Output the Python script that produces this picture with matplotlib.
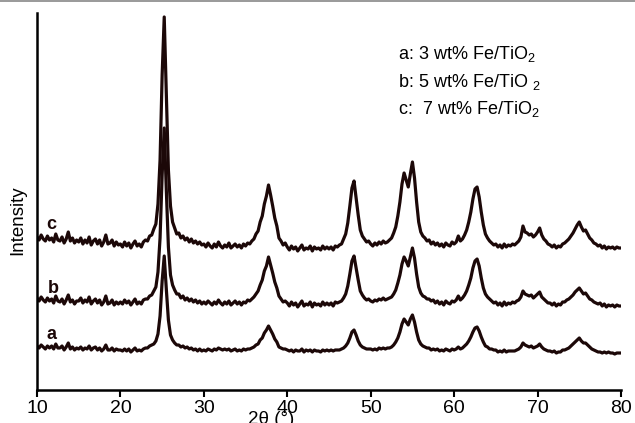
import numpy as np
import matplotlib.pyplot as plt
from matplotlib.lines import Line2D

plt.rcParams['font.family'] = ['Liberation Sans', 'DejaVu Sans']
plt.rcParams['mathtext.default'] = 'regular'

# 2theta scan grid (degrees), 0.25 step
two_theta = np.arange(10.0, 80.001, 0.25)

# intensities (arbitrary units, offset traces)
int_c = [
    153, 150, 155, 151, 149, 154, 150, 152, 148, 156, 150, 149, 153, 147, 151, 158, 149, 152, 147, 150,
    148, 152, 146, 150, 147, 153, 145, 149, 151, 146, 150, 144, 148, 155, 146, 147, 150, 144, 148, 145,
    146, 143, 148, 144, 147, 142, 146, 149, 144, 146, 143, 148, 150, 149, 154, 155, 161, 166, 186, 230,
    315, 373, 295, 220, 184, 168, 162, 156, 157, 152, 154, 150, 152, 148, 151, 147, 149, 146, 148, 145,
    146, 143, 147, 144, 142, 146, 143, 148, 144, 142, 145, 143, 147, 142, 144, 146, 143, 145, 142, 146,
    144, 147, 146, 149, 151, 156, 159, 168, 174, 186, 194, 205, 195, 184, 172, 164, 152, 149, 145, 147,
    143, 140, 144, 141, 143, 139, 142, 145, 140, 142, 141, 144, 139, 143, 141, 142, 140, 144, 141, 143,
    141, 143, 140, 144, 143, 145, 146, 151, 156, 167, 184, 202, 209, 192, 175, 160, 154, 151, 148, 149,
    146, 144, 147, 145, 148, 146, 149, 147, 148, 150, 152, 157, 163, 174, 188, 206, 217, 210, 203, 216,
    228, 212, 188, 168, 158, 154, 152, 149, 150, 146, 148, 145, 147, 144, 146, 143, 147, 145, 144, 148,
    146, 148, 154, 149, 151, 155, 160, 168, 178, 191, 201, 203, 193, 178, 165, 156, 152, 149, 147, 145,
    146, 143, 145, 142, 146, 143, 145, 144, 146, 145, 147, 149, 153, 164, 158, 157, 155, 156, 153, 155,
    158, 162, 155, 151, 149, 146, 145, 143, 145, 142, 144, 143, 146, 147, 149, 151, 154, 157, 161, 165,
    168, 163, 159, 160, 156, 152, 150, 147, 146, 144, 145, 142, 144, 141, 143, 142, 143, 141, 143, 142,
    142,
]

int_b = [
    92, 89, 93, 90, 88, 92, 89, 91, 87, 94, 89, 88, 91, 86, 90, 95, 88, 90, 86, 89,
    89, 92, 87, 90, 88, 93, 86, 89, 91, 87, 90, 85, 88, 94, 86, 87, 90, 85, 88, 86,
    88, 86, 90, 87, 89, 85, 88, 91, 86, 88, 86, 90, 91, 91, 94, 95, 99, 103, 118, 152,
    215, 262, 200, 143, 115, 105, 100, 96, 96, 92, 94, 90, 92, 89, 91, 88, 90, 87, 89, 86,
    88, 86, 89, 87, 85, 88, 86, 90, 87, 85, 88, 86, 89, 85, 87, 89, 86, 88, 85, 88,
    87, 90, 89, 91, 93, 96, 99, 105, 110, 119, 124, 133, 125, 117, 108, 102, 94, 91, 88, 89,
    87, 84, 88, 85, 87, 83, 86, 89, 84, 86, 85, 88, 83, 87, 85, 86, 84, 88, 85, 87,
    85, 87, 84, 88, 87, 88, 89, 92, 96, 104, 116, 129, 134, 122, 110, 99, 95, 92, 90, 91,
    89, 88, 90, 89, 91, 90, 92, 90, 91, 92, 93, 96, 100, 107, 115, 126, 133, 129, 124, 133,
    142, 132, 116, 103, 97, 94, 93, 91, 91, 89, 90, 87, 89, 86, 88, 85, 89, 87, 86, 89,
    88, 90, 94, 90, 92, 95, 99, 105, 112, 122, 129, 131, 124, 112, 102, 96, 93, 91, 89, 87,
    88, 85, 87, 84, 88, 85, 87, 86, 88, 87, 89, 90, 93, 99, 96, 95, 94, 95, 92, 94,
    96, 98, 93, 91, 89, 87, 87, 85, 87, 84, 86, 85, 88, 88, 90, 91, 93, 95, 98, 100,
    102, 99, 96, 97, 94, 91, 90, 88, 87, 86, 87, 84, 86, 83, 85, 84, 85, 83, 85, 84,
    84,
]

int_a = [
    44, 42, 45, 43, 41, 44, 42, 44, 41, 46, 42, 42, 44, 40, 43, 47, 41, 43, 40, 42,
    41, 43, 40, 42, 41, 44, 40, 42, 43, 40, 42, 39, 41, 45, 40, 40, 42, 39, 41, 40,
    40, 39, 41, 39, 41, 38, 40, 42, 39, 40, 39, 41, 42, 42, 44, 45, 46, 49, 56, 74,
    109, 134, 101, 70, 55, 50, 47, 45, 45, 43, 44, 42, 43, 41, 42, 40, 41, 39, 41, 39,
    40, 39, 41, 40, 39, 41, 40, 42, 41, 40, 41, 40, 41, 39, 40, 41, 39, 40, 39, 41,
    40, 41, 41, 42, 43, 45, 46, 50, 52, 57, 60, 64, 60, 56, 51, 48, 43, 42, 41, 41,
    40, 39, 40, 38, 40, 39, 39, 41, 38, 40, 39, 40, 38, 40, 39, 39, 38, 40, 39, 40,
    39, 40, 39, 40, 40, 40, 41, 42, 44, 47, 52, 58, 60, 55, 49, 45, 43, 42, 41, 41,
    41, 40, 41, 40, 42, 41, 42, 41, 42, 42, 43, 45, 48, 52, 58, 66, 71, 68, 65, 71,
    75, 68, 58, 50, 46, 44, 43, 42, 42, 40, 41, 40, 41, 39, 40, 39, 41, 40, 39, 41,
    40, 41, 43, 41, 42, 44, 46, 49, 53, 58, 62, 63, 59, 53, 48, 44, 43, 41, 41, 40,
    40, 38, 39, 38, 40, 38, 39, 39, 39, 39, 40, 41, 43, 47, 45, 44, 43, 44, 42, 43,
    44, 46, 43, 41, 40, 39, 39, 38, 39, 37, 38, 38, 40, 40, 41, 42, 44, 46, 48, 50,
    52, 49, 47, 47, 45, 43, 41, 40, 39, 38, 38, 37, 38, 37, 38, 37, 37, 36, 37, 37,
    37,
]

curve_labels = ['a', 'b', 'c']
label_pos = [(11.7, 47), (11.9, 93), (11.7, 157)]
legend_lines = ['a: 3 wt% Fe/TiO$_2$', 'b: 5 wt% Fe/TiO $_2$', 'c:  7 wt% Fe/TiO$_2$']
xticks = [10, 20, 30, 40, 50, 60, 70, 80]

color = '#1c0808'

fig = plt.figure(figsize=(6.35, 4.23), dpi=100)
ax = fig.add_axes([37 / 635, 33 / 423, 584 / 635, 377 / 423])

for y in (int_a, int_b, int_c):
    ax.plot(two_theta, y, color=color, lw=2.3)

for lab, (lx, ly) in zip(curve_labels, label_pos):
    ax.text(lx, ly, lab, fontsize=13, fontweight='bold', color=color,
            ha='center', va='bottom')

for i, t in enumerate(legend_lines):
    ax.text(53.3, 336 - i * 27.5, t, fontsize=13, color='black', va='center')

ax.set_xlim(10, 80)
ax.set_ylim(0, 377)
ax.set_xticks(xticks)
ax.set_yticks([])
ax.tick_params(axis='x', direction='out', length=5, width=1.5, labelsize=14, pad=2.5)
for s in ['top', 'right']:
    ax.spines[s].set_visible(False)
for s in ['left', 'bottom']:
    ax.spines[s].set_linewidth(1.8)

fig.text(18 / 635, 1 - 220 / 423, 'Intensity', rotation=90, fontsize=13.5,
         ha='center', va='center')
fig.text(271 / 635, 1 - 411 / 423, '2θ (°)', fontsize=13.5, ha='center', va='top')

# grey border line at the very top of the original picture
fig.add_artist(Line2D([0, 1], [0.998, 0.998], color='#888888', lw=1.2,
                      transform=fig.transFigure))

fig.savefig('out.png', dpi=100)
